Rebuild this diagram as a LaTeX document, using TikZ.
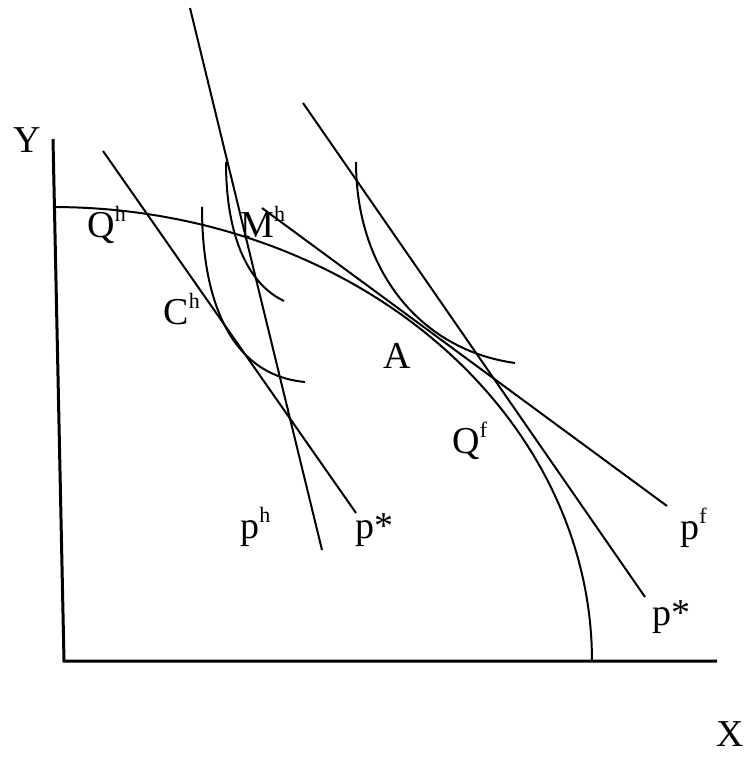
\documentclass[tikz,border=0pt]{standalone}
\usepackage{fontspec}
\setmainfont{Liberation Serif}
\usepackage{tikz}
\usetikzlibrary{calc,positioning}

\newcommand{\upidx}[1]{\raisebox{8pt}{\fontsize{11}{12}\selectfont #1}}

\tikzset{
  axisline/.style={line width=1.5pt},
  thinline/.style={line width=1pt},
  lbl/.style={anchor=base west, inner sep=0pt, font=\fontsize{19}{22}\selectfont}
}

\begin{document}
\begin{tikzpicture}[x=0.5pt,y=-0.5pt]
      \useasboundingbox (0,0) rectangle (750,758);
      % Draw the axes
      \draw[axisline] (53,139) -- (64,661) -- (717,661);
      % Draw the production frontier
      \draw[thinline] plot[domain=0:90, samples=80] ({53+539*sin(\x)}, {661-454*cos(\x)});
      % Draw the price lines
      \draw[thinline] (190,8) -- (322,550);
      \draw[thinline] (103,151) -- (356,513);
      \draw[thinline] (303,103) -- (645,597);
      \draw[thinline] (262,208) -- (667,506);
      % Draw the indifference curves
      \draw[thinline] (226,162) .. controls (226,240) and (250,285) .. (284,301);
      \draw[thinline] (202,207) .. controls (202,300) and (230,375) .. (305,382);
      \draw[thinline] (356,162) .. controls (356,270) and (420,350) .. (515,363);
      % label the axes
      \node[lbl] (labY) at (13,153) {Y};
      \node[lbl] (labX) at (716,746) {X};
      % label the points
      \node[lbl] (labQh) at (87,238) {Q\upidx{h}};
      \node[lbl] (labMh) at (240,238) {M\upidx{h}};
      \node[lbl] (labCh) at (163,325) {C\upidx{h}};
      \node[lbl] (labA) at (383,368) {A};
      \node[lbl] (labQf) at (452,453) {Q\upidx{f}};
      % label the price lines
      \node[lbl] (labph) at (240,538) {p\upidx{h}};
      \node[lbl] (labpsl) at (355,538) {p*};
      \node[lbl] (labpf) at (680,539) {p\upidx{f}};
      \node[lbl] (labpsr) at (652,625) {p*};
\end{tikzpicture}
\end{document}
